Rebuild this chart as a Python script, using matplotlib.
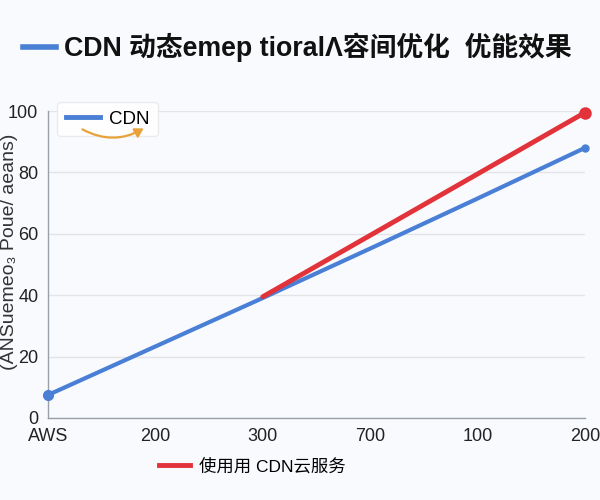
import numpy as np
import matplotlib
matplotlib.use('Agg')
import matplotlib.pyplot as plt
from matplotlib.lines import Line2D
from matplotlib.patches import FancyArrowPatch

plt.rcParams['font.family'] = ['Liberation Sans', 'Noto Sans CJK SC', 'DejaVu Sans']

# data
categories = ['AWS', '200', '300', '700', '100', '200']
cdn_values = [7.5, 23.3, 39.1, 55.2, 71.5, 88.0]
cloud_pos = [2, 3, 4, 5]
cloud_values = [39.5, 59.5, 79.5, 99.5]
yticks = [0, 20, 40, 60, 80, 100]

title_text = 'CDN 动态emep tioralΛ容间优化  优能效果'
ylabel_text = '(ANSuemeo₃ Poue/ aeans)'
blue_label = 'CDN'
red_label = '使用用 CDN云服务'

blue = '#4a7fd6'
red = '#e2323a'
bg = '#f8fafd'

fig = plt.figure(figsize=(6, 5), dpi=100, facecolor=bg)
ax = fig.add_axes([0.08, 0.164, 0.895, 0.614])
ax.set_facecolor(bg)

x = np.arange(len(categories))
ax.plot(x, cdn_values, color=blue, lw=3, solid_capstyle='round', zorder=3)
ax.plot([x[0]], [cdn_values[0]], 'o', color=blue, ms=7, clip_on=False, zorder=4)
ax.plot([x[-1]], [cdn_values[-1]], 'o', color=blue, ms=5, clip_on=False, zorder=4)
ax.plot(cloud_pos, cloud_values, color=red, lw=3.5, solid_capstyle='round', zorder=3)
ax.plot([cloud_pos[-1]], [cloud_values[-1]], 'o', color=red, ms=8, clip_on=False, zorder=4)

ax.set_xlim(0, len(categories) - 1)
ax.set_ylim(0, 100)
ax.set_xticks(x)
ax.set_xticklabels(categories, fontsize=13, color='#222222')
ax.set_yticks(yticks)
ax.set_yticklabels([str(v) for v in yticks], fontsize=13, color='#222222')
ax.tick_params(length=0, pad=7)
ax.grid(axis='y', color='#e2e4e8', lw=1)
ax.set_axisbelow(True)
for s in ['top', 'right']:
    ax.spines[s].set_visible(False)
for s in ['left', 'bottom']:
    ax.spines[s].set_color('#9aa0a8')
    ax.spines[s].set_linewidth(1)

# inner legend with curved arrow
leg = ax.legend([Line2D([0], [0], color=blue, lw=3.5)], [blue_label],
                loc='upper left', bbox_to_anchor=(0.0, 1.06), fontsize=13.5,
                handlelength=1.8, frameon=True, fancybox=True,
                borderpad=0.45, handletextpad=0.5)
leg.get_frame().set_facecolor('white')
leg.get_frame().set_edgecolor('#e8eaee')
leg.get_frame().set_alpha(0.9)
leg.set_zorder(5)

arrow = FancyArrowPatch((80 / 600, 1 - 128 / 500), (146 / 600, 1 - 127 / 500),
                        transform=fig.transFigure, connectionstyle='arc3,rad=0.3',
                        arrowstyle='-|>,head_length=5,head_width=3',
                        color='#e8a23a', lw=1.6, zorder=6)
fig.patches.append(arrow)

# title with blue line handle
fig.add_artist(Line2D([23 / 600, 56 / 600], [1 - 47 / 500, 1 - 47 / 500],
                      transform=fig.transFigure, color=blue, lw=4))
fig.text(64 / 600, 1 - 47 / 500, title_text, fontsize=19.3, fontweight='bold',
         va='center', ha='left', color='#111111')

# y label at the left edge
fig.text(10 / 600, 1 - 252 / 500, ylabel_text, rotation=90, fontsize=14,
         va='center', ha='center', color='#333333')

# bottom legend
fig.legend([Line2D([0], [0], color=red, lw=3.5)], [red_label],
           loc='center', bbox_to_anchor=(0.42, 1 - 466 / 500), fontsize=12.5,
           frameon=False, handlelength=1.8, handletextpad=0.5)

fig.savefig('out.png', dpi=100, facecolor=bg)
